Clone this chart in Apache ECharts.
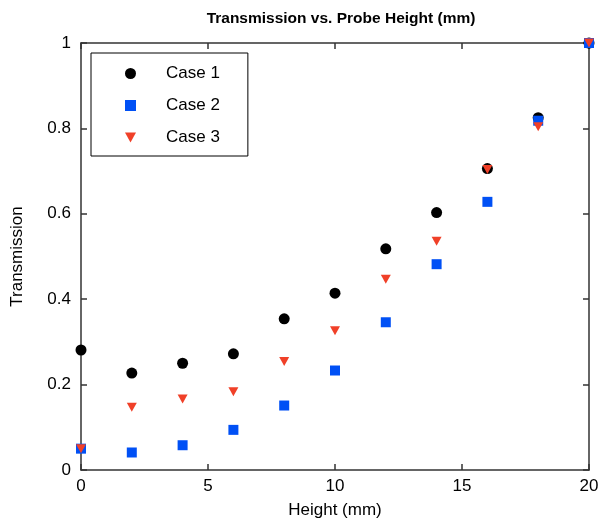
<!DOCTYPE html>
<html>
<head>
<meta charset="utf-8">
<script src="https://cdn.jsdelivr.net/npm/echarts@6/dist/echarts.min.js"></script>
<style>
  html, body { margin: 0; padding: 0; background: #fff; }
  #chart { width: 603px; height: 527px; }
</style>
</head>
<body>
<div id="chart"></div>
<script>
const heights = [0, 2, 4, 6, 8, 10, 12, 14, 16, 18, 20];
const case1 = [0.281, 0.227, 0.250, 0.272, 0.354, 0.414, 0.518, 0.603, 0.706, 0.825, 1.0];
const case2 = [0.050, 0.041, 0.058, 0.094, 0.151, 0.233, 0.346, 0.482, 0.628, 0.818, 1.0];
const case3 = [0.050, 0.147, 0.166, 0.183, 0.254, 0.326, 0.447, 0.536, 0.704, 0.804, 1.0];

const font = 'Liberation Sans, Arial, Helvetica, sans-serif';
const axisColor = '#333';
const downTriangle = 'path://M0,0 L10,0 L5,9 Z';

const toPairs = vals => vals.map((v, i) => [heights[i], v]);

const chart = echarts.init(document.getElementById('chart'));

const baseAxis = {
    axisLine: { show: true, onZero: false, lineStyle: { color: axisColor, width: 1.5 } },
    axisTick: { show: true, inside: true, length: 6, lineStyle: { color: axisColor, width: 1.5 } },
    splitLine: { show: false }
};

chart.setOption({
    animation: false,
    backgroundColor: '#fff',
    title: {
        text: 'Transmission vs. Probe Height (mm)',
        left: 336,
        textAlign: 'center',
        top: 6,
        textStyle: { fontFamily: font, fontSize: 15.5, fontWeight: 'bold', color: '#000' }
    },
    grid: { left: 81, right: 14, top: 43, bottom: 57 },
    legend: {
        orient: 'vertical',
        left: 91,
        top: 53,
        borderColor: '#000',
        borderWidth: 1,
        borderRadius: 0,
        padding: [12, 28, 10, 34],
        itemGap: 15,
        itemWidth: 11,
        itemHeight: 11,
        textStyle: { fontFamily: font, fontSize: 17, color: '#000', padding: [0, 0, 0, 25] },
        data: [
            { name: 'Case 1', icon: 'circle' },
            { name: 'Case 2', icon: 'rect' },
            { name: 'Case 3', icon: downTriangle }
        ]
    },
    xAxis: [
        Object.assign({}, baseAxis, {
            type: 'value', min: 0, max: 20, interval: 5,
            name: 'Height (mm)', nameLocation: 'middle', nameGap: 32,
            nameTextStyle: { fontFamily: font, fontSize: 17, color: '#000' },
            axisLabel: { fontFamily: font, fontSize: 17, color: '#000', margin: 8 }
        }),
        Object.assign({}, baseAxis, {
            type: 'value', min: 0, max: 20, interval: 5, position: 'top',
            axisLabel: { show: false }
        })
    ],
    yAxis: [
        Object.assign({}, baseAxis, {
            type: 'value', min: 0, max: 1, interval: 0.2,
            name: 'Transmission', nameLocation: 'middle', nameGap: 55,
            nameTextStyle: { fontFamily: font, fontSize: 17, color: '#000' },
            axisLabel: {
                fontFamily: font, fontSize: 17, color: '#000', margin: 10,
                formatter: v => String(Math.round(v * 10) / 10)
            }
        }),
        Object.assign({}, baseAxis, {
            type: 'value', min: 0, max: 1, interval: 0.2, position: 'right',
            axisLabel: { show: false }
        })
    ],
    series: [
        {
            name: 'Case 1', type: 'scatter', symbol: 'circle', symbolSize: 11,
            itemStyle: { color: '#000', opacity: 1 },
            data: toPairs(case1)
        },
        {
            name: 'Case 2', type: 'scatter', symbol: 'rect', symbolSize: 10,
            itemStyle: { color: '#0050f5', opacity: 1 },
            data: toPairs(case2)
        },
        {
            name: 'Case 3', type: 'scatter', symbol: downTriangle, symbolSize: [10, 9],
            itemStyle: { color: '#f04028', opacity: 1 },
            data: toPairs(case3)
        }
    ]
});
</script>
</body>
</html>
